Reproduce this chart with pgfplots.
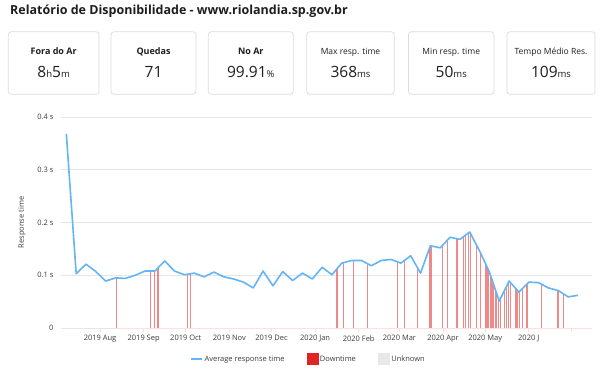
\documentclass[border=0pt]{standalone}
\usepackage{fontspec}
\setmainfont{Open Sans}
\usepackage{pgfplots}
\pgfplotsset{compat=1.18}
\definecolor{lineblue}{RGB}{100,181,246}
\definecolor{downred}{RGB}{224,36,36}
\definecolor{barred}{RGB}{232,88,88}
\definecolor{gridgray}{RGB}{230,230,230}
\definecolor{boxgray}{RGB}{220,220,220}
\definecolor{txt}{RGB}{30,30,30}
\definecolor{ticktxt}{RGB}{60,60,60}
\definecolor{unkgray}{RGB}{232,232,232}
\newcommand\un[1]{{\fontsize{9.5}{10}\selectfont #1}}
\newcommand\statbox[6]{% left right center label value labelfont
  \draw[boxgray, rounded corners=3pt, line width=0.7pt] (#1pt,-31.7pt) rectangle (#2pt,-94.3pt);
  \node[anchor=base, inner sep=0pt, text=txt, font=#6] at (#3pt,-54.3pt) {#4};
  \node[anchor=base, inner sep=0pt, text=txt, font=\fontsize{15.5}{17}\selectfont] at (#3pt,-77.3pt) {#5};
}
\begin{document}
\begin{tikzpicture}
\path[fill=white] (0pt,0pt) rectangle (602pt,-368pt);
\node[anchor=base west, inner sep=0pt, text=txt, font=\fontsize{12.5}{14}\selectfont\bfseries] at (10pt,-14pt) {Relatório de Disponibilidade - www.riolandia.sp.gov.br};
\statbox{8.3}{99}{53.65}{Fora do Ar}{8\un{h}5\un{m}}{\fontsize{9}{10}\selectfont\bfseries}
\statbox{111}{196}{153.5}{Quedas}{71}{\fontsize{9}{10}\selectfont\bfseries}
\statbox{208.3}{293.3}{250.8}{No Ar}{99.91\un{\%}}{\fontsize{9}{10}\selectfont\bfseries}
\statbox{306.7}{394.3}{350.5}{Max resp. time}{368\un{ms}}{\fontsize{8.5}{10}\selectfont}
\statbox{408.5}{494}{451.25}{Min resp. time}{50\un{ms}}{\fontsize{8.5}{10}\selectfont}
\statbox{507}{595}{551}{Tempo Médio Res.}{109\un{ms}}{\fontsize{8.5}{10}\selectfont}
\begin{axis}[
  at={(61pt,-328pt)}, anchor=south west,
  scale only axis, width=531pt, height=211pt,
  xmin=-27.8, xmax=350, ymin=0, ymax=0.4,
  axis lines*=left, axis line style={draw=none},
  ymajorgrids, grid style={gridgray, line width=0.8pt},
  ytick={0,0.1,0.2,0.3,0.4}, yticklabels={0,0.1 s,0.2 s,0.3 s,0.4 s},
  xtick={0,31,61,92,122,153,184,213,244,274,305,335},
  xticklabels={2019 Aug,2019 Sep,2019 Oct,2019 Nov,2019 Dec,2020 Jan,2020 Feb,2020 Mar,2020 Apr,2020 May,2020 J,{}},
  x tick style={draw=gridgray, line width=0.8pt}, tick align=outside, major tick length=4pt,
  y tick style={draw=none},
  ticklabel style={font=\fontsize{7.5}{9}\selectfont, text=ticktxt},
  ylabel={Response time},
  ylabel style={at={(axis description cs:-0.0734,0.5)}, anchor=center, font=\fontsize{7.5}{9}\selectfont, text=ticktxt},
  legend style={at={(axis description cs:0.4655,-0.147)}, anchor=center, draw=none, fill=none,
    legend columns=3, font=\fontsize{7.5}{9}\selectfont, text=ticktxt,
    /tikz/every even column/.append style={column sep=20pt}},
  clip=false,
]
\addplot[draw=red!12, line width=0.8pt, forget plot] coordinates {(11.4,0) (350,0)};
\addplot[ycomb, no marks, draw=barred, draw opacity=0.7, line width=1.15pt, forget plot] coordinates {
(11.4,0.095) (36.1,0.108) (38.6,0.108) (40.6,0.112) (41.5,0.115) (62.1,0.102) (64.6,0.103)
(168.0,0.110) (168.9,0.113) (173.2,0.124) (180.6,0.128) (190.5,0.122) (211.4,0.126) (211.9,0.125)
(216.4,0.128) (225.8,0.114) (234.4,0.152) (235.4,0.155) (243.9,0.157) (247.0,0.166) (253.9,0.169)
(258.6,0.173) (259.8,0.176) (262.0,0.180) (263.3,0.180) (268.1,0.156) (270.5,0.143) (274.0,0.123)
(275.3,0.116) (276.4,0.110) (277.6,0.101) (278.8,0.092) (279.9,0.083) (281.1,0.074) (282.3,0.064)
(283.7,0.053) (284.7,0.055) (287.5,0.070) (289.0,0.078) (290.6,0.087) (292.3,0.085) (295.4,0.076)
(296.6,0.072) (298.4,0.069) (300.4,0.075) (303.7,0.083) (314.2,0.083) (325.8,0.071) (329.5,0.065)
};
\addplot[lineblue, line width=1.6pt, no marks, line join=round,
  legend image code/.code={\draw[lineblue, line width=2pt] (0pt,0pt) -- (11pt,0pt);}] coordinates {
(-24,0.368) (-17,0.103) (-10,0.121) (-3,0.107) (4,0.089) (11,0.095) (18,0.094) (25,0.100)
(32,0.108) (39,0.108) (46,0.127) (53,0.108) (60,0.101) (67,0.104) (74,0.097) (81,0.106)
(88,0.097) (95,0.093) (102,0.087) (109,0.076) (116,0.108) (123,0.080) (130,0.107) (137,0.090)
(144,0.104) (151,0.093) (158,0.115) (165,0.101) (172,0.123) (179,0.128) (186,0.128) (193,0.118)
(200,0.128) (207,0.130) (214,0.123) (221,0.137) (228,0.104) (235,0.156) (242,0.152) (249,0.172)
(256,0.168) (263,0.182) (270,0.146) (277,0.106) (284,0.051) (291,0.089) (298,0.068) (305,0.087)
(312,0.086) (319,0.076) (326,0.071) (333,0.059) (340,0.062)
};
\addlegendentry{Average response time}
\addlegendimage{legend image code/.code={\fill[downred] (0pt,-5.5pt) rectangle (11pt,5.5pt);}}
\addlegendentry{Downtime}
\addlegendimage{legend image code/.code={\fill[unkgray] (0pt,-5.5pt) rectangle (11pt,5.5pt);}}
\addlegendentry{Unknown}
\end{axis}
\end{tikzpicture}
\end{document}
